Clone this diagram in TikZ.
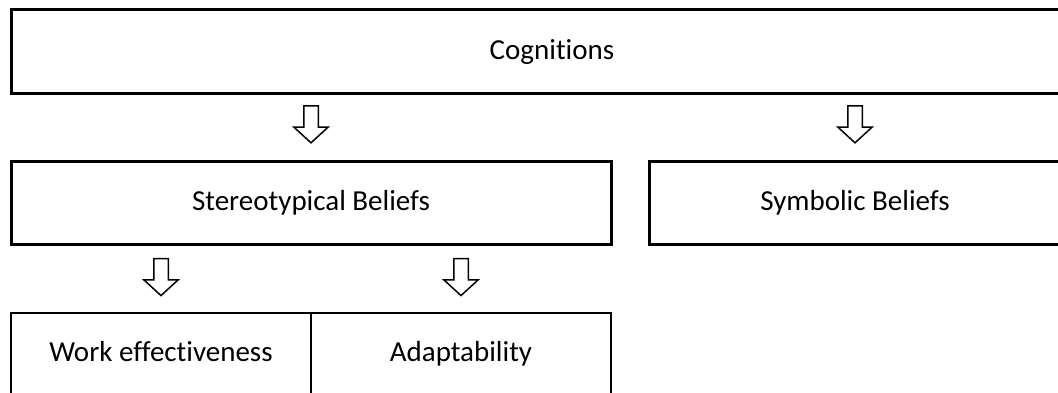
\documentclass[tikz,border=0pt]{standalone}
\usepackage{fontspec}
\setmainfont[Ligatures=NoCommon]{Carlito}
\usetikzlibrary{shapes.arrows,calc}
\tikzset{
  levelbox/.style={draw, line width=3pt, minimum height=83pt, inner sep=0pt,
    text height=1.8em, text depth=0.2em},
  leafbox/.style={draw, line width=1.5pt, minimum height=82pt, minimum width=300pt, inner sep=0pt,
    text height=1.6em, text depth=0.2em},
  hollowarrow/.style={draw, line width=1.5pt, single arrow, shape border rotate=270,
    minimum height=37pt, minimum width=33pt, inner sep=6.5pt,
    single arrow head extend=10pt, single arrow tip angle=95},
}
\begin{document}
\begin{tikzpicture}[x=1pt, y=1pt, font=\fontsize{29}{34}\selectfont]
\useasboundingbox (0,0) rectangle (1058,392);
% boxes
\node[levelbox, minimum width=1082pt] (cog) at (552, 340.5) {Cognitions};
\node[levelbox, minimum width=600pt] (stereo) at (311, 189.5) {Stereotypical Beliefs};
\node[levelbox, minimum width=412pt] (symb) at (855, 189.5) {Symbolic Beliefs};
\node[leafbox] (work) at (161, 38) {Work effectiveness};
\node[leafbox] (adapt) at (461, 38) {Adaptability};
% arrows
\node[hollowarrow] (cog2stereo) at ($(stereo.north)+(0,38.5)$) {};
\node[hollowarrow] (cog2symb) at ($(symb.north)+(0,38.5)$) {};
\node[hollowarrow] (stereo2work) at ($(work.north)+(0,38.5)$) {};
\node[hollowarrow] (stereo2adapt) at ($(adapt.north)+(0,38.5)$) {};
\end{tikzpicture}
\end{document}
